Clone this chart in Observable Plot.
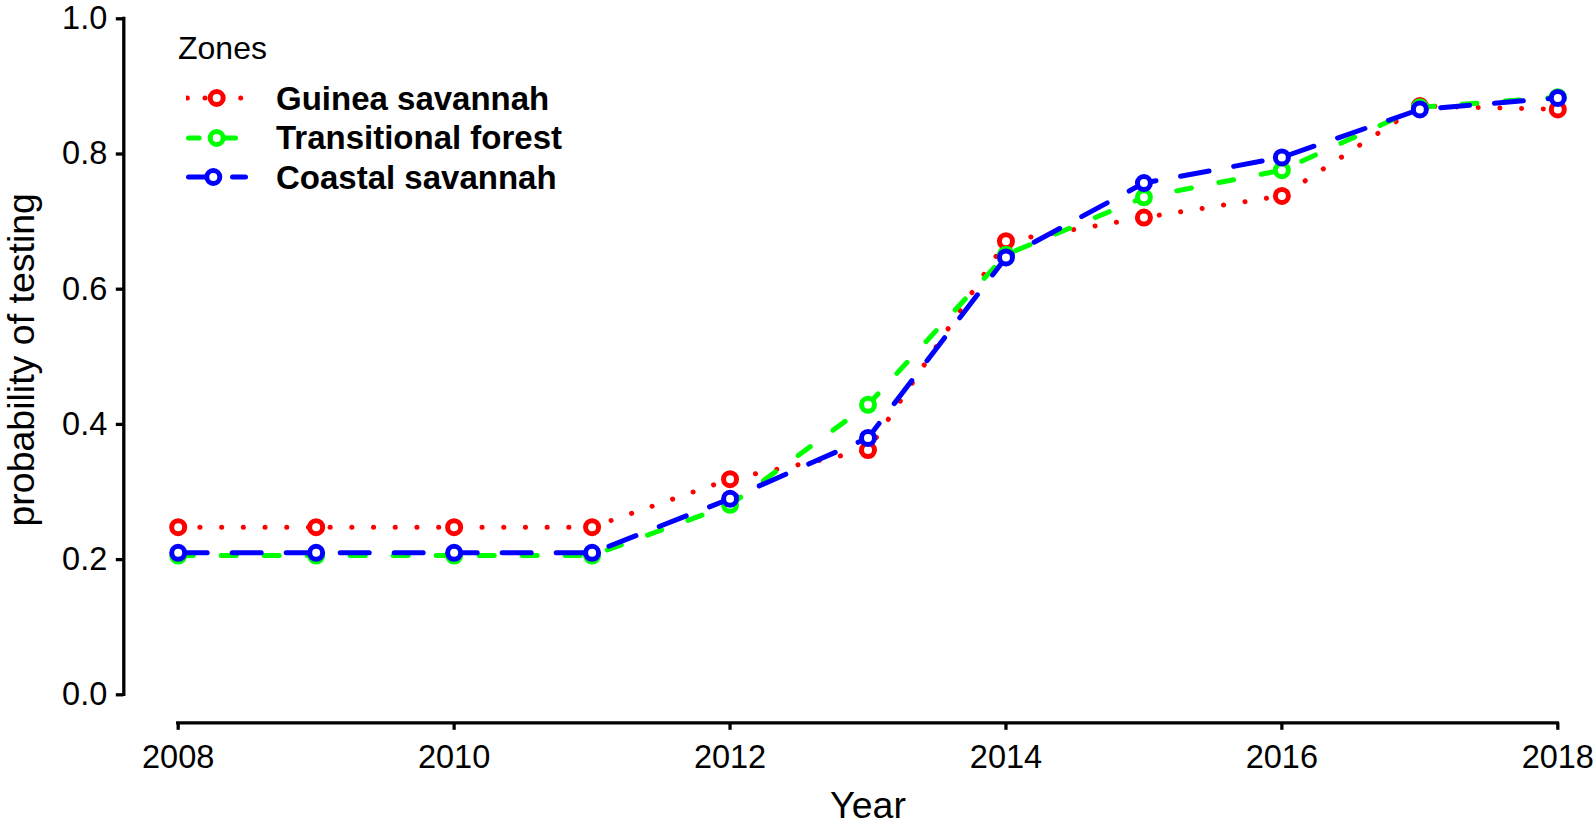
<!DOCTYPE html>
<html>
<head>
<meta charset="utf-8">
<script src="https://cdn.jsdelivr.net/npm/d3@7"></script>
<script src="https://cdn.jsdelivr.net/npm/@observablehq/plot@0.6"></script>
<style>
  html, body { margin: 0; padding: 0; background: #fff; }
  #wrap { position: relative; width: 1594px; height: 832px; font-family: "Liberation Sans", Arial, sans-serif; color: #000; }
  #legend { position: absolute; left: 0; top: 0; }
  .ltitle { position: absolute; left: 178px; top: 47.5px; transform: translateY(-50%); font-size: 32px; line-height: 1; white-space: nowrap; }
  .lrow { position: absolute; left: 186px; height: 40px; display: flex; align-items: center; transform: translateY(-50%); }
  .lrow svg { display: block; }
  .lrow span { position: absolute; left: 90px; font-weight: bold; font-size: 33px; white-space: nowrap; line-height: 1; }
</style>
</head>
<body>
<div id="wrap"><div id="legend"></div></div>
<script>
// ---- data ----
const years = [2008, 2009, 2010, 2011, 2012, 2013, 2014, 2015, 2016, 2017, 2018];
const zoneNames = ["Guinea savannah", "Transitional forest", "Coastal savannah"];
const guinea       = [0.248, 0.248, 0.248, 0.248, 0.319, 0.362, 0.671, 0.706, 0.738, 0.871, 0.866];
const transitional = [0.206, 0.206, 0.206, 0.206, 0.281, 0.429, 0.651, 0.736, 0.776, 0.869, 0.884];
const coastal      = [0.210, 0.210, 0.210, 0.210, 0.290, 0.380, 0.647, 0.757, 0.795, 0.866, 0.883];
const xTicks = [2008, 2010, 2012, 2014, 2016, 2018];
const yTicks = [0, 0.2, 0.4, 0.6, 0.8, 1.0];
const legendTitle = "Zones";
const xLabel = "Year";
const yLabel = "probability of testing";

// ---- styles ----
const colors = ["#ff0000", "#00ff00", "#0000ff"];
const dashes = ["0.1,21.6", "15,28", "29,25"];
// legend swatch styling (pixel layout of the little key glyphs)
const swatchSegs = [
  [[1.3, 1.3], [19, 19], [54.7, 54.7]],
  [[2.5, 13.2], [39.5, 49.5]],
  [[2.5, 19.5], [46.5, 59.5]]
];
const swatchCircleX = [30.7, 30.7, 27.3];
const seriesValues = [guinea, transitional, coastal];

const FONT = '"Liberation Sans", Arial, sans-serif';
const AX = 3.3;

const marks = [];
seriesValues.forEach((vals, k) => {
  const rows = years.map((yr, i) => ({year: yr, p: vals[i], zone: zoneNames[k]}));
  marks.push(Plot.line(rows, {x: "year", y: "p", stroke: colors[k], strokeWidth: 5,
    strokeDasharray: dashes[k], strokeLinecap: "round"}));
  marks.push(Plot.dot(rows, {x: "year", y: "p", r: 6.5, stroke: colors[k], strokeWidth: 5, fill: "white"}));
});

const chart = Plot.plot({
  width: 1594,
  height: 832,
  marginLeft: 177.7,
  marginRight: 36.7,
  marginTop: 18.3,
  marginBottom: 137.7,
  style: {fontFamily: FONT, fontSize: "32.5px", color: "#000", background: "#fff", overflow: "visible"},
  x: {domain: [2008, 2018]},
  y: {domain: [0, 1]},
  marks: [
    Plot.ruleX([2008], {y1: 0, y2: 1, dx: -54.4, stroke: "#000", strokeWidth: AX, strokeLinecap: "square"}),
    Plot.ruleY([0], {x1: 2008, x2: 2018, dy: 28, stroke: "#000", strokeWidth: AX, strokeLinecap: "square"}),
    Plot.axisX(xTicks, {tickSize: 7.5, tickPadding: 15, dy: 28, strokeWidth: AX, fontSize: 32.5,
      tickFormat: d => String(d), label: null, fill: "#000"}),
    Plot.axisY(yTicks, {tickSize: 7.5, tickPadding: 9, dx: -54.4, strokeWidth: AX, fontSize: 32.5,
      tickFormat: d => d.toFixed(1), label: null, fill: "#000"}),
    Plot.text([xLabel], {frameAnchor: "bottom", dy: 111, fontSize: 37.5, textAnchor: "middle", lineAnchor: "middle", fill: "#000"}),
    Plot.text([yLabel], {frameAnchor: "left", dx: -156, dy: 3, rotate: -90, fontSize: 37.5, textAnchor: "middle", lineAnchor: "middle", fill: "#000"}),
    ...marks
  ]
});
document.getElementById("wrap").prepend(chart);

// ---- legend (HTML overlay) ----
const legend = document.getElementById("legend");
const t = document.createElement("div");
t.className = "ltitle";
t.textContent = legendTitle;
legend.appendChild(t);
const rowY = [98, 137.5, 177];
zoneNames.forEach((name, k) => {
  const row = document.createElement("div");
  row.className = "lrow";
  row.style.top = rowY[k] + "px";
  const svg = d3.create("svg").attr("width", 64).attr("height", 40);
  swatchSegs[k].forEach(([a, b]) => {
    svg.append("line").attr("x1", a).attr("x2", b).attr("y1", 20).attr("y2", 20)
      .attr("stroke", colors[k]).attr("stroke-width", 5).attr("stroke-linecap", "round");
  });
  svg.append("circle").attr("cx", swatchCircleX[k]).attr("cy", 20).attr("r", 6.5)
    .attr("fill", "white").attr("stroke", colors[k]).attr("stroke-width", 5);
  row.appendChild(svg.node());
  const s = document.createElement("span");
  s.textContent = name;
  row.appendChild(s);
  legend.appendChild(row);
});
</script>
</body>
</html>
